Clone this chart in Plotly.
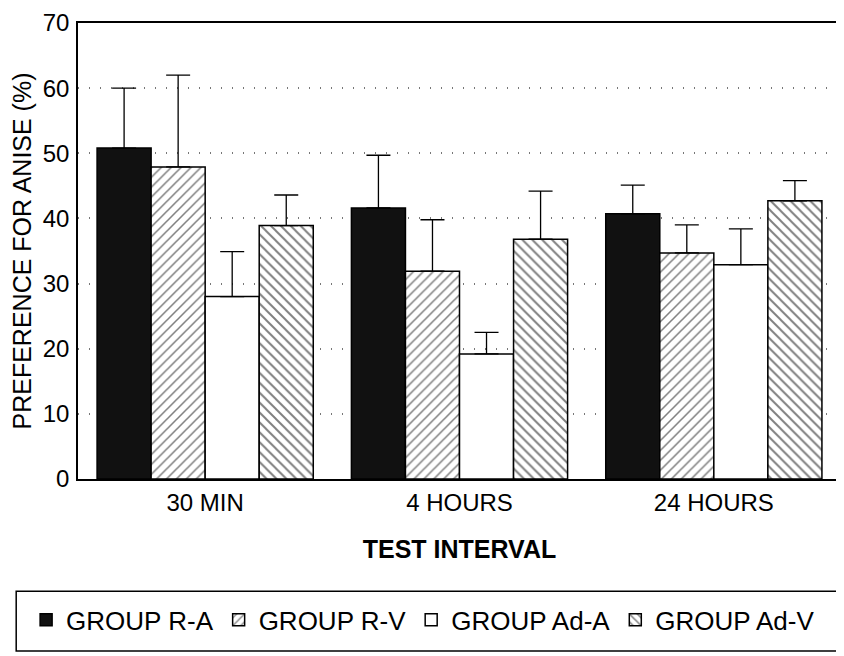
import plotly.graph_objects as go

categories = ["30 MIN", "4 HOURS", "24 HOURS"]
groups = ["GROUP R-A", "GROUP R-V", "GROUP Ad-A", "GROUP Ad-V"]

ra_values = [50.8, 41.6, 40.7]
rv_values = [47.9, 31.9, 34.7]
ada_values = [28.0, 19.2, 32.9]
adv_values = [38.9, 36.8, 42.7]

ra_err = [9.2, 8.1, 4.4]
rv_err = [14.1, 7.9, 4.3]
ada_err = [6.9, 3.3, 5.5]
adv_err = [4.7, 7.4, 3.1]

y_ticks = [0, 10, 20, 30, 40, 50, 60, 70]

FONT = "Liberation Sans, Arial, Helvetica, sans-serif"

styles = [
    dict(color="#111111", pattern=None),
    dict(color="white", pattern=dict(shape="/", fgcolor="black", bgcolor="white", size=7, solidity=0.22)),
    dict(color="white", pattern=None),
    dict(color="white", pattern=dict(shape="\\", fgcolor="black", bgcolor="white", size=7, solidity=0.28)),
]

values = [ra_values, rv_values, ada_values, adv_values]
errs = [ra_err, rv_err, ada_err, adv_err]

fig = go.Figure()
for name, vals, err, st in zip(groups, values, errs, styles):
    marker = dict(color=st["color"], line=dict(color="black", width=1.5))
    if st["pattern"] is not None:
        marker["pattern"] = st["pattern"]
    fig.add_trace(go.Bar(
        x=categories, y=vals, name=name, marker=marker,
        error_y=dict(type="data", symmetric=False, array=err,
                     arrayminus=[0] * len(err), color="black",
                     thickness=1.3, width=12),
    ))

fig.update_layout(
    width=836, height=648,
    margin=dict(l=70, r=1, t=12, b=177),
    paper_bgcolor="white", plot_bgcolor="white",
    barmode="group", bargap=0.15, bargroupgap=0,
    font=dict(family=FONT, color="black"),
    showlegend=True,
    legend=dict(orientation="h", x=-0.068, xanchor="left", y=-0.309, yanchor="middle",
                font=dict(family=FONT, size=26, color="black"),
                bgcolor="rgba(0,0,0,0)", borderwidth=0, traceorder="normal"),
    shapes=[dict(type="rect", xref="paper", yref="paper",
                 x0=-0.081, x1=1.06, y0=-0.377, y1=-0.246,
                 line=dict(color="black", width=1.5), fillcolor="rgba(0,0,0,0)")],
)

fig.update_xaxes(
    showline=True, mirror=True, linecolor="black", linewidth=1.5,
    showgrid=False, ticks="", tickfont=dict(size=24, family=FONT),
    ticklabelstandoff=1,
    title=dict(text="<b>TEST INTERVAL</b>", font=dict(size=25, family=FONT), standoff=26),
)
fig.update_yaxes(
    range=[0, 70], tickvals=y_ticks, ticklabeloverflow="allow",
    showline=True, mirror=True, linecolor="black", linewidth=1.5,
    showgrid=True, gridcolor="#777777", gridwidth=1.5, griddash="1px,10px",
    zeroline=False, ticks="", tickfont=dict(size=24, family=FONT),
    ticklabelstandoff=2,
    title=dict(text="PREFERENCE FOR ANISE (%)", font=dict(size=25, family=FONT), standoff=10),
)

fig.write_html("out.html")
